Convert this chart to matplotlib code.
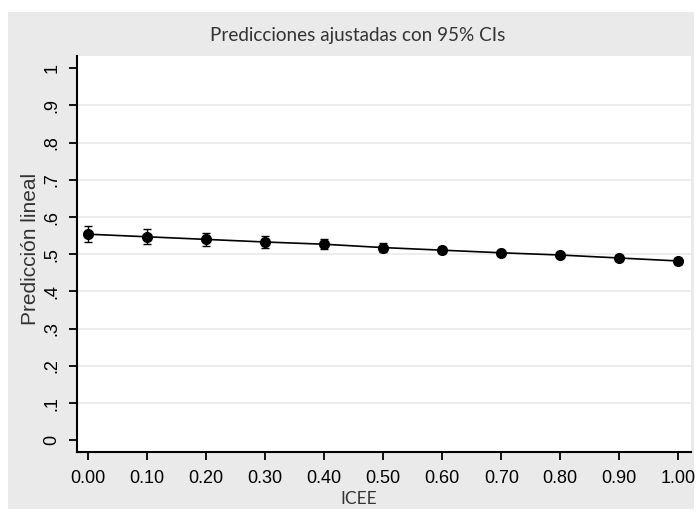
import matplotlib.pyplot as plt
import matplotlib.patches as mpatches
import numpy as np

# valores
icee = [0.0, 0.1, 0.2, 0.3, 0.4, 0.5, 0.6, 0.7, 0.8, 0.9, 1.0]
pred = [0.554, 0.547, 0.540, 0.533, 0.527, 0.518, 0.511, 0.504, 0.498, 0.490, 0.482]
ci_half = [0.022, 0.020, 0.018, 0.016, 0.013, 0.011, 0.008, 0.007, 0.006, 0.007, 0.008]

yticks = [0, .1, .2, .3, .4, .5, .6, .7, .8, .9, 1]
ytick_labels = ["0", ".1", ".2", ".3", ".4", ".5", ".6", ".7", ".8", ".9", "1"]
xticks = [0.0, 0.1, 0.2, 0.3, 0.4, 0.5, 0.6, 0.7, 0.8, 0.9, 1.0]
xtick_labels = ["%.2f" % v for v in xticks]

W, H = 700, 514
fig = plt.figure(figsize=(7, 5.14), dpi=100, facecolor="white")
# fondo gris tipo Stata
fig.patches.append(mpatches.Rectangle((8 / W, 1 - 509 / H), (694 - 8) / W, (509 - 12) / H,
                                      transform=fig.transFigure, facecolor="#eaeaea",
                                      edgecolor="none", zorder=-5))

ax = fig.add_axes([77 / W, 1 - 452 / H, (691 - 77) / W, (452 - 56) / H])
ax.set_facecolor("white")

for g in yticks[1:-1]:
    ax.axhline(g, color="#eaeaea", lw=1.2, zorder=1)

ax.errorbar(icee, pred, yerr=ci_half, fmt="none", ecolor="black", elinewidth=1.0,
            capsize=3, capthick=1.0, zorder=2)
ax.plot(icee, pred, color="black", lw=1.2, marker="o", markersize=7,
        markerfacecolor="black", zorder=3)

ax.set_xlim(-0.019, 1.0215)
ax.set_ylim(-0.0315, 1.033)
ax.set_xticks(xticks)
ax.set_xticklabels(xtick_labels, fontsize=13, fontfamily="Liberation Sans")
ax.set_yticks(yticks)
ax.set_yticklabels(ytick_labels, fontsize=13, fontfamily="Liberation Sans", rotation=90, va="center")
ax.tick_params(axis="both", direction="out", length=6, width=1.3, color="black")
ax.tick_params(axis="x", pad=7)
ax.tick_params(axis="y", pad=6)

for s in ["top", "right"]:
    ax.spines[s].set_visible(False)
for s in ["left", "bottom"]:
    ax.spines[s].set_linewidth(1.5)
    ax.spines[s].set_color("black")

fig.text(358 / W, 1 - 35 / H, "Predicciones ajustadas con 95% CIs", ha="center", va="center",
         fontsize=13.6, family="Lato", color="#333333")
fig.text(359 / W, 1 - 499 / H, "ICEE", ha="center", va="center",
         fontsize=12.5, family="Lato", color="#333333")
fig.text(31 / W, 1 - 249 / H, "Predicción lineal", ha="center", va="center", rotation=90,
         fontsize=15, family="Liberation Sans", color="#333333")

fig.savefig("out.png", dpi=100, facecolor=fig.get_facecolor())
